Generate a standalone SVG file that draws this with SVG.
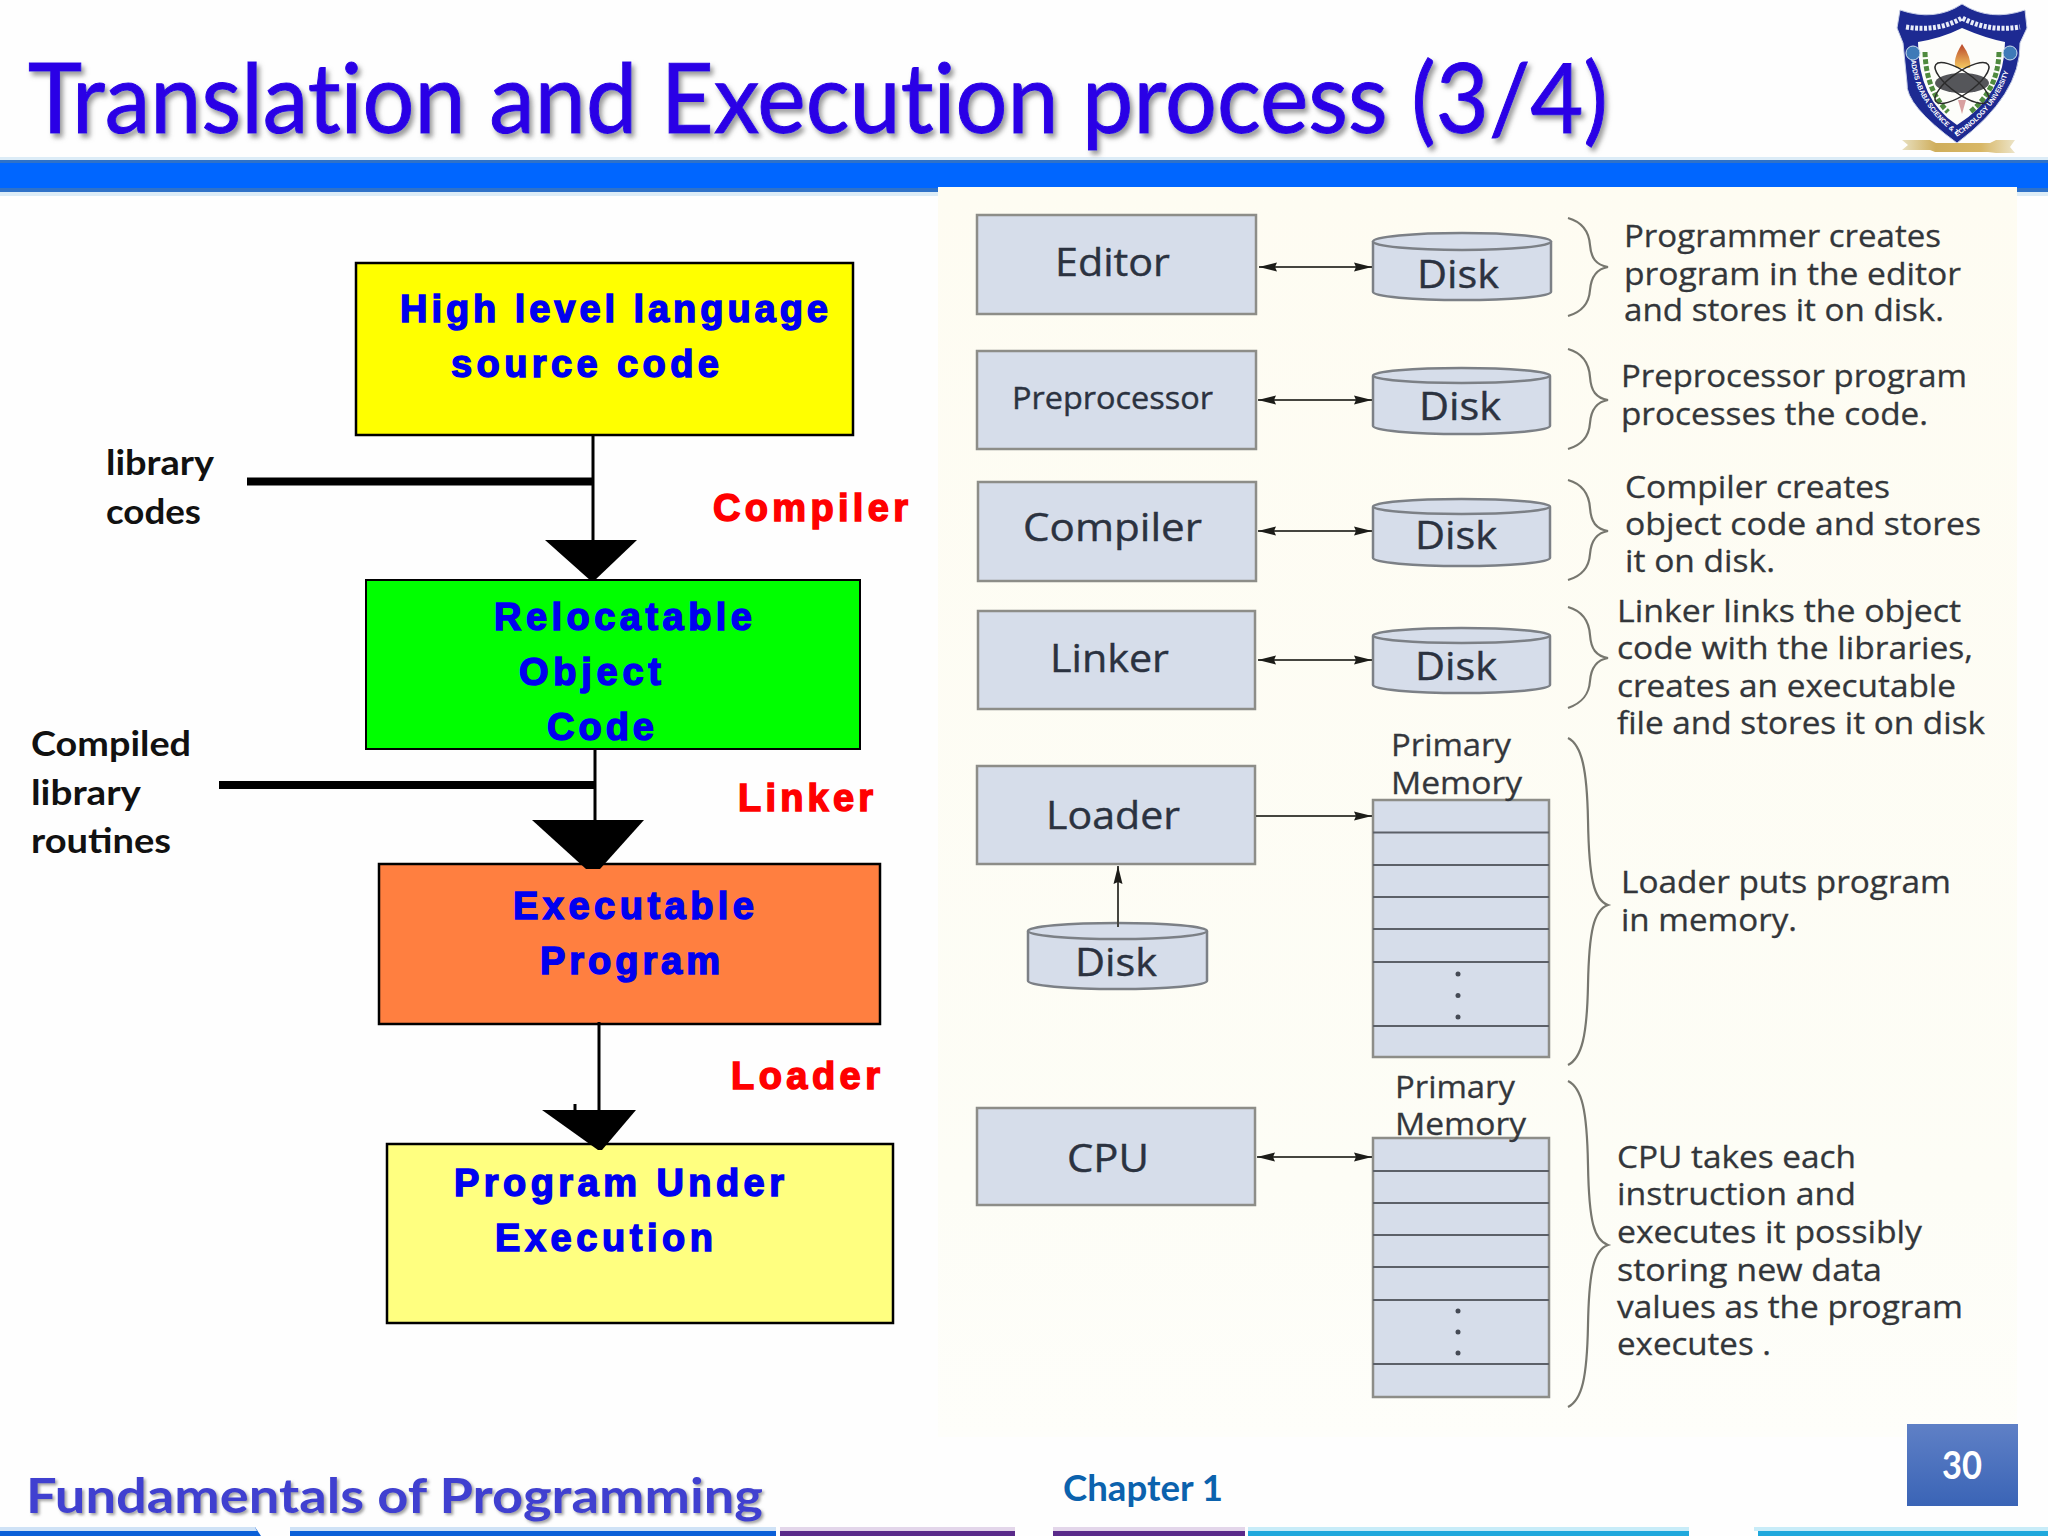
<svg xmlns="http://www.w3.org/2000/svg" width="2048" height="1536" viewBox="0 0 2048 1536">
<style>
.fl{fill:#0000f0;stroke:#0000f0;stroke-width:1.5;font:bold 38px "Liberation Sans",Arial,sans-serif}
.rd{fill:#f00;stroke:#f00;stroke-width:1.5;font:bold 38px "Liberation Sans",Arial,sans-serif}
.bk{fill:#111;font:bold 35px Lato,"Open Sans",sans-serif}
.bx{stroke:#000;stroke-width:2.5}
.gb{fill:#d6ddea;stroke:#8d8d88;stroke-width:2.5}
.lb{fill:#2b3240;stroke:#2b3240;stroke-width:.4;font:38px "Open Sans","Noto Sans",sans-serif}
.pp{font-size:31px}
.pm{fill:#34373c;stroke:#34373c;stroke-width:.3;font:31px "Open Sans","Noto Sans",sans-serif}
.nt{fill:#33363a;stroke:#33363a;stroke-width:.3;font:31px "Open Sans","Noto Sans",sans-serif}
.ln{stroke:#000;fill:none}
.ar{stroke:#45453f;stroke-width:2;fill:none}
.br{stroke:#77776f;stroke-width:2.2;fill:none}
.cy{fill:#d6ddea;stroke:#7c8086;stroke-width:2.5}
.ml{stroke:#5c6068;stroke-width:2}
.dt{fill:#454a55}
.lt{font-family:Lato,"Open Sans",sans-serif;font-variant-ligatures:none}
</style>
<defs>
<marker id="ah" viewBox="0 0 18 10" refX="18" refY="5" markerWidth="18" markerHeight="10" markerUnits="userSpaceOnUse" orient="auto-start-reverse"><path d="M0 .5 18 5 0 9.500 2 5Z" fill="#1c1c18"/></marker>
<filter id="ts" x="-2%" y="-10%" width="104%" height="130%"><feDropShadow dx="3" dy="4" stdDeviation="2.5" flood-color="#777" flood-opacity=".75"/></filter>
<filter id="fs" x="-2%" y="-10%" width="104%" height="130%"><feDropShadow dx="2" dy="2" stdDeviation="1.5" flood-color="#888" flood-opacity=".8"/></filter>
<linearGradient id="pg" x1="0" y1="0" x2="0" y2="1"><stop offset="0" stop-color="#5f80c6"/><stop offset="1" stop-color="#3a64b6"/></linearGradient>
<linearGradient id="pn" x1="0" y1="0" x2="0" y2="1"><stop offset="0" stop-color="#fefcf2"/><stop offset=".8" stop-color="#fdfdf6"/><stop offset="1" stop-color="#fefefa"/></linearGradient>
<linearGradient id="rb" x1="0" y1="0" x2="1" y2="0"><stop offset="0" stop-color="#e8e0c0"/><stop offset=".3" stop-color="#cfae5c"/><stop offset=".7" stop-color="#d8b766"/><stop offset="1" stop-color="#ece4c8"/></linearGradient>
<linearGradient id="fm" x1="0" y1="0" x2="0" y2="1"><stop offset="0" stop-color="#b9452a"/><stop offset="1" stop-color="#f4c860"/></linearGradient>
<path id="lp" d="M1911 60C1914 92 1932 118 1958 136C1985 118 2006 92 2011 60"/>
</defs>
<rect width="2048" height="1536" fill="#fefefe"/>
<g id="header">
<rect y="157" width="2048" height="39" fill="#dcecf7"/>
<rect y="160" width="2048" height="32" fill="#2f72c8"/>
<rect y="163" width="2048" height="25" fill="#0066ff"/>
<text class="lt" x="28" y="133" font-size="97" fill="#2a00e6" stroke="#2a00e6" stroke-width="1" textLength="1580" lengthAdjust="spacingAndGlyphs" filter="url(#ts)">Translation and Execution process (3/4)</text>
</g>
<rect id="panel" x="938" y="187" width="1079" height="1250" fill="url(#pn)"/>
<g id="logo">
<path d="M1900 10Q1935 22 1962 4Q1990 22 2025 10L2027 28L2020 43Q2021 95 1957 143Q1905 105 1907 83L1903 43L1897 28Z" fill="#1d2a92" stroke="#c8cfe6"/>
<path d="M1906 27Q1938 32 1962 18Q1988 32 2020 27" fill="none" stroke="#e8ecf8" stroke-width="5" stroke-dasharray="3 1.500"/>
<path d="M1918 42Q1942 38 1962 28Q1985 38 2005 42Q2005 95 1957 125Q1918 100 1918 42Z" fill="#fdfdfa"/>
<circle cx="1913" cy="53" r="7" fill="#3f7ab8" stroke="#cfe0ee"/><circle cx="2010" cy="53" r="7" fill="#3f7ab8" stroke="#cfe0ee"/>
<path d="M1925 52Q1926 90 1948 112M1999 52Q1998 90 1970 112" stroke="#4f8a3e" stroke-width="5" fill="none" stroke-dasharray="5 2"/>
<path d="M1962 44Q1952 60 1956 68H1970Q1972 58 1962 44Z" fill="url(#fm)"/>
<path d="M1958 100L1966 100L1962 114Z" fill="#d8a0a0"/>
<ellipse cx="1962" cy="83" rx="27" ry="10" fill="#55565a"/>
<g fill="none" stroke="#2c2c2c" stroke-width="1.500"><ellipse cx="1962" cy="83" rx="32" ry="11" transform="rotate(35 1962 83)"/><ellipse cx="1962" cy="83" rx="32" ry="11" transform="rotate(-35 1962 83)"/></g>
<path d="M1902 140H1930L1936 143H1990L1996 140H2015L2010 147L2015 153H1996L1988 152H1935L1930 150H1902L1908 145Z" fill="url(#rb)"/>
<text font-family="'Liberation Sans',sans-serif" font-size="7" font-weight="bold" fill="#fff"><textPath href="#lp" textLength="176" lengthAdjust="spacingAndGlyphs">ADDIS ABABA SCIENCE &amp; TECHNOLOGY UNIVERSITY</textPath></text>
</g>
<g id="source-code"><rect class="bx" x="356" y="263" width="497" height="172" fill="#ff0"/><text class="fl" x="400" y="322" textLength="428">High level language</text><text class="fl" x="451" y="377" textLength="268">source code</text></g>
<g id="object-code"><rect class="bx" x="366" y="580" width="494" height="169" fill="#0f0" style="stroke-width:2"/><text class="fl" x="494" y="630" textLength="258">Relocatable</text><text class="fl" x="519" y="685" textLength="142">Object</text><text class="fl" x="547" y="740" textLength="107">Code</text></g>
<g id="executable"><rect class="bx" x="379" y="864" width="501" height="160" fill="#ff7f40"/><text class="fl" x="513" y="919" textLength="241">Executable</text><text class="fl" x="540" y="974" textLength="180">Program</text></g>
<g id="under-execution"><rect class="bx" x="387" y="1144" width="506" height="179" fill="#ffff80"/><text class="fl" x="454" y="1196" textLength="330">Program Under</text><text class="fl" x="495" y="1251" textLength="218">Execution</text></g>
<g id="connectors-left">
<path class="ln" stroke-width="3" d="M593 435V545M595 749V825M599 1022V1115M575 1104V1112"/>
<path class="ln" stroke-width="8" d="M247 481.500H594M219 785H595"/>
<path d="M545 540H637L594 581H591Z"/><path d="M532 820H644L600 869H586Z"/><path d="M542 1110H636L602 1150H598Z"/>
</g>
<g id="flow-labels">
<text class="rd" x="713" y="521" textLength="195">Compiler</text>
<text class="rd" x="738" y="811" textLength="135">Linker</text>
<text class="rd" x="731" y="1089" textLength="149">Loader</text>
<text class="bk" x="106" y="475" textLength="108" lengthAdjust="spacingAndGlyphs">library</text>
<text class="bk" x="106" y="524" textLength="95" lengthAdjust="spacingAndGlyphs">codes</text>
<text class="bk" x="31" y="756" textLength="160" lengthAdjust="spacingAndGlyphs">Compiled</text>
<text class="bk" x="31" y="805" textLength="110" lengthAdjust="spacingAndGlyphs">library</text>
<text class="bk" x="31" y="853" textLength="140" lengthAdjust="spacingAndGlyphs">routines</text>
</g>
<g id="editor"><rect class="gb" x="977" y="215" width="279" height="99"/><text class="lb" x="1055" y="276" textLength="115" lengthAdjust="spacingAndGlyphs">Editor</text></g>
<g id="preprocessor"><rect class="gb" x="977" y="351" width="279" height="98"/><text class="lb pp" x="1012" y="409" textLength="201" lengthAdjust="spacingAndGlyphs">Preprocessor</text></g>
<g id="compiler"><rect class="gb" x="978" y="482" width="278" height="99"/><text class="lb" x="1023" y="541" textLength="179" lengthAdjust="spacingAndGlyphs">Compiler</text></g>
<g id="linker"><rect class="gb" x="978" y="611" width="277" height="98"/><text class="lb" x="1050" y="672" textLength="119" lengthAdjust="spacingAndGlyphs">Linker</text></g>
<g id="loader"><rect class="gb" x="977" y="766" width="278" height="98"/><text class="lb" x="1046" y="829" textLength="134" lengthAdjust="spacingAndGlyphs">Loader</text></g>
<g id="cpu"><rect class="gb" x="977" y="1108" width="278" height="97"/><text class="lb" x="1067" y="1172" textLength="82" lengthAdjust="spacingAndGlyphs">CPU</text></g>
<g id="disk-1"><path class="cy" d="M1373 241V292A89 8 0 0 0 1551 292V241"/><ellipse class="cy" cx="1462" cy="241.500" rx="89" ry="8.500"/><text class="lb" x="1417" y="288" textLength="82" lengthAdjust="spacingAndGlyphs">Disk</text></g>
<g id="disk-2"><path class="cy" d="M1373 376V426A88.500 8 0 0 0 1550 426V376"/><ellipse class="cy" cx="1461.500" cy="375.500" rx="88.500" ry="7.500"/><text class="lb" x="1419" y="420" textLength="82" lengthAdjust="spacingAndGlyphs">Disk</text></g>
<g id="disk-3"><path class="cy" d="M1373 507V558A88.500 8 0 0 0 1550 558V507"/><ellipse class="cy" cx="1461.500" cy="506.500" rx="88.500" ry="7.500"/><text class="lb" x="1415" y="549" textLength="82" lengthAdjust="spacingAndGlyphs">Disk</text></g>
<g id="disk-4"><path class="cy" d="M1373 636V685A88.500 8 0 0 0 1550 685V636"/><ellipse class="cy" cx="1461.500" cy="635.500" rx="88.500" ry="7.500"/><text class="lb" x="1415" y="680" textLength="82" lengthAdjust="spacingAndGlyphs">Disk</text></g>
<g id="disk-5"><path class="cy" d="M1028 931V981A89.500 8 0 0 0 1207 981V931"/><ellipse class="cy" cx="1117.500" cy="931" rx="89.500" ry="8"/><text class="lb" x="1075" y="976" textLength="82" lengthAdjust="spacingAndGlyphs">Disk</text></g>
<g id="memory-1"><rect class="gb" x="1373" y="800" width="176" height="257"/><path class="ml" d="M1373 832.500H1549M1373 865H1549M1373 897H1549M1373 929H1549M1373 962H1549M1373 1026H1549"/><circle class="dt" cx="1458" cy="974" r="2.500"/><circle class="dt" cx="1458" cy="995.500" r="2.500"/><circle class="dt" cx="1458" cy="1017" r="2.500"/><text class="pm" x="1391" y="756" textLength="120" lengthAdjust="spacingAndGlyphs">Primary</text><text class="pm" x="1391" y="794" textLength="131" lengthAdjust="spacingAndGlyphs">Memory</text></g>
<g id="memory-2"><rect class="gb" x="1373" y="1138" width="176" height="259"/><path class="ml" d="M1373 1171H1549M1373 1203H1549M1373 1235H1549M1373 1267H1549M1373 1300H1549M1373 1364H1549"/><circle class="dt" cx="1458" cy="1311" r="2.500"/><circle class="dt" cx="1458" cy="1332" r="2.500"/><circle class="dt" cx="1458" cy="1353" r="2.500"/><text class="pm" x="1395" y="1098" textLength="120" lengthAdjust="spacingAndGlyphs">Primary</text><text class="pm" x="1395" y="1135" textLength="131" lengthAdjust="spacingAndGlyphs">Memory</text></g>
<g id="connectors-right">
<line class="ar" x1="1259" y1="267" x2="1372" y2="267" marker-start="url(#ah)" marker-end="url(#ah)"/>
<line class="ar" x1="1258" y1="400" x2="1372" y2="400" marker-start="url(#ah)" marker-end="url(#ah)"/>
<line class="ar" x1="1258" y1="531" x2="1372" y2="531" marker-start="url(#ah)" marker-end="url(#ah)"/>
<line class="ar" x1="1258" y1="660" x2="1372" y2="660" marker-start="url(#ah)" marker-end="url(#ah)"/>
<line class="ar" x1="1256" y1="816" x2="1372" y2="816" marker-end="url(#ah)"/>
<line class="ar" x1="1118" y1="927" x2="1118" y2="866" marker-end="url(#ah)"/>
<line class="ar" x1="1257" y1="1157" x2="1372" y2="1157" marker-start="url(#ah)" marker-end="url(#ah)"/>
<path class="br" d="M1568 218C1582 222 1589 232 1590 245C1591 258 1596 265 1608 267C1596 269 1591 278 1590 290C1589 304 1582 312 1568 316"/>
<path class="br" d="M1568 349C1582 353 1589 363 1590 377C1591 391 1596 398 1608 400C1596 402 1591 410 1590 423C1589 437 1582 445 1568 449"/>
<path class="br" d="M1568 480C1582 484 1589 494 1590 508C1591 522 1596 529 1608 531C1596 533 1591 541 1590 554C1589 568 1582 576 1568 580"/>
<path class="br" d="M1568 607C1582 611 1589 621 1590 635C1591 649 1596 656 1608 658C1596 660 1591 668 1590 681C1589 695 1582 703 1568 708"/>
<path class="br" d="M1568 738C1582 745 1587 770 1588 820C1589 880 1594 900 1608 905C1594 910 1589 930 1588 985C1587 1035 1582 1058 1568 1065"/>
<path class="br" d="M1568 1081C1582 1088 1587 1110 1588 1165C1589 1222 1594 1240 1608 1245C1594 1250 1589 1270 1588 1325C1587 1378 1582 1400 1568 1407"/>
</g>
<g id="notes">
<text class="nt" x="1624" y="247" textLength="317" lengthAdjust="spacingAndGlyphs">Programmer creates</text>
<text class="nt" x="1624" y="285" textLength="337" lengthAdjust="spacingAndGlyphs">program in the editor</text>
<text class="nt" x="1624" y="321" textLength="320" lengthAdjust="spacingAndGlyphs">and stores it on disk.</text>
<text class="nt" x="1621" y="387" textLength="346" lengthAdjust="spacingAndGlyphs">Preprocessor program</text>
<text class="nt" x="1621" y="425" textLength="307" lengthAdjust="spacingAndGlyphs">processes the code.</text>
<text class="nt" x="1625" y="498" textLength="265" lengthAdjust="spacingAndGlyphs">Compiler creates</text>
<text class="nt" x="1625" y="535" textLength="356" lengthAdjust="spacingAndGlyphs">object code and stores</text>
<text class="nt" x="1625" y="572" textLength="150" lengthAdjust="spacingAndGlyphs">it on disk.</text>
<text class="nt" x="1617" y="622" textLength="344" lengthAdjust="spacingAndGlyphs">Linker links the object</text>
<text class="nt" x="1617" y="659" textLength="356" lengthAdjust="spacingAndGlyphs">code with the libraries,</text>
<text class="nt" x="1617" y="697" textLength="339" lengthAdjust="spacingAndGlyphs">creates an executable</text>
<text class="nt" x="1617" y="734" textLength="368" lengthAdjust="spacingAndGlyphs">file and stores it on disk</text>
<text class="nt" x="1621" y="893" textLength="330" lengthAdjust="spacingAndGlyphs">Loader puts program</text>
<text class="nt" x="1621" y="931" textLength="176" lengthAdjust="spacingAndGlyphs">in memory.</text>
<text class="nt" x="1617" y="1168" textLength="239" lengthAdjust="spacingAndGlyphs">CPU takes each</text>
<text class="nt" x="1617" y="1205" textLength="239" lengthAdjust="spacingAndGlyphs">instruction and</text>
<text class="nt" x="1617" y="1243" textLength="305" lengthAdjust="spacingAndGlyphs">executes it possibly</text>
<text class="nt" x="1617" y="1281" textLength="265" lengthAdjust="spacingAndGlyphs">storing new data</text>
<text class="nt" x="1617" y="1318" textLength="346" lengthAdjust="spacingAndGlyphs">values as the program</text>
<text class="nt" x="1617" y="1355" textLength="154" lengthAdjust="spacingAndGlyphs">executes .</text>
</g>
<g id="footer">
<path d="M0 1527H255L261 1536H0Z" fill="#0a5fd8"/><path d="M290 1531H776V1536H290Z" fill="#0a5fd8"/>
<path d="M290 1527H776V1531H290Z" fill="#cfe2f6"/><path d="M0 1527H255L257 1531H0Z" fill="#cfe2f6"/>
<path d="M780 1531H1015V1536H780Z" fill="#5a2a8a"/><path d="M780 1527H1015V1531H780Z" fill="#e3d6ea"/>
<path d="M1053 1531H1245V1536H1053Z" fill="#5a2a8a"/><path d="M1053 1527H1245V1531H1053Z" fill="#e3d6ea"/>
<path d="M1248 1531H1689V1536H1248Z" fill="#1fa8dc"/><path d="M1248 1527H1689V1531H1248Z" fill="#c8ecf8"/>
<path d="M1758 1531H2048V1536H1758Z" fill="#1fa8dc"/><path d="M1754 1527H2048V1531H1754Z" fill="#c8ecf8"/>
<text class="lt" x="26" y="1513" font-weight="bold" font-size="48" fill="#3f3fd0" textLength="737" lengthAdjust="spacingAndGlyphs" filter="url(#fs)">Fundamentals of Programming</text>
<text class="lt" x="1063" y="1501" font-weight="bold" font-size="36" fill="#0b62ad" textLength="160" lengthAdjust="spacingAndGlyphs">Chapter 1</text>
<rect x="1907" y="1424" width="111" height="82" fill="url(#pg)"/>
<text class="lt" x="1942" y="1479" font-weight="bold" font-size="38" fill="#fff" textLength="40" lengthAdjust="spacingAndGlyphs">30</text>
</g>
</svg>
